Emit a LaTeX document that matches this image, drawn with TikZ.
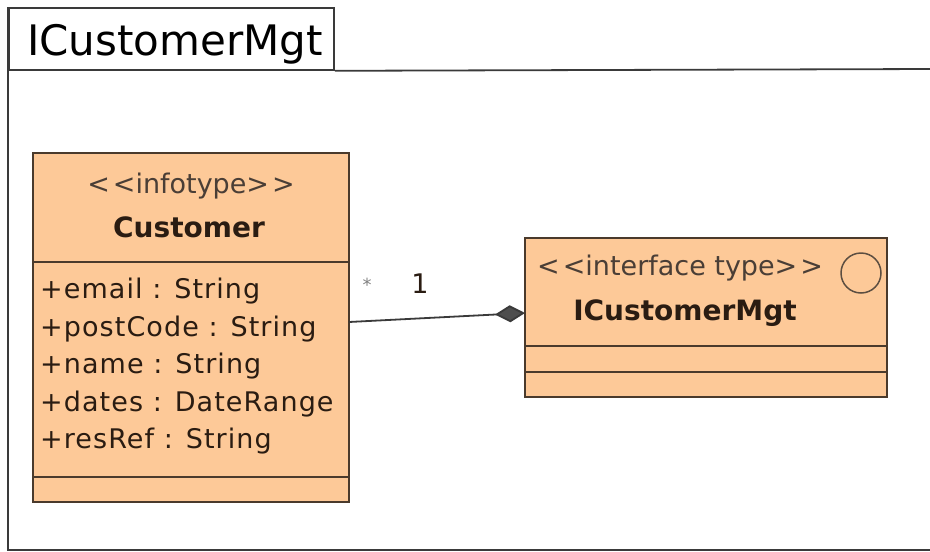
\documentclass[tikz,border=0pt]{standalone}
\usepackage{fontspec}
\setmainfont{DejaVu Sans}
\usetikzlibrary{arrows.meta,calc}
\definecolor{peach}{HTML}{FDC998}
\definecolor{edge}{HTML}{4A3A2C}
\definecolor{ink}{HTML}{2A1C12}
\definecolor{frame}{HTML}{3A3A3A}
\newcommand{\lt}{<\kern3pt<}
\newcommand{\gt}{>\kern3pt>}
\tikzset{
  umlbox/.style={draw=edge,line width=1.8pt,fill=peach,rectangle,inner sep=0pt,outer sep=0pt},
  sepline/.style={draw=edge,line width=1.8pt},
  framestyle/.style={draw=frame,line width=1.8pt},
  attr/.style={anchor=base west,inner sep=0pt,text=ink,font=\fontsize{27}{32}\selectfont\addfontfeature{LetterSpace=4}},
  stereo/.style={anchor=base,inner sep=0pt,text=ink!85,font=\fontsize{27}{32}\selectfont},
  cname/.style={anchor=base,inner sep=0pt,text=ink,font=\fontsize{28}{32}\selectfont\bfseries},
  mult/.style={anchor=base,inner sep=0pt,text=ink,font=\fontsize{27}{32}\selectfont},
  comp/.style={draw=frame,line width=1.8pt,-{Diamond[length=30pt,width=17pt,fill=frame!90]}}
}
\begin{document}
\begin{tikzpicture}[x=1pt,y=-1pt]
\useasboundingbox (0,0) rectangle (930,552);
% frame
\node[framestyle,rectangle,inner sep=0pt,minimum width=325pt,minimum height=62pt,anchor=north west] (tab) at (8,7) {};
\node[anchor=base west,inner sep=0pt,font=\fontsize{42}{48}\selectfont,text=black] (title) at (27,55) {ICustomerMgt};
\draw[framestyle] (tab.south east) -- (932,69);
\draw[framestyle] (tab.north west) -- (8,550) -- (932,550);
% Customer class
\node[umlbox,minimum width=316pt,minimum height=349pt,anchor=north west] (cust) at (33,153) {};
\draw[sepline] (33,262) -- (349,262);
\draw[sepline] (33,477) -- (349,477);
\node[stereo] (cst) at (191,193) {\lt infotype\gt};
\node[cname] (cnm) at (189,237) {Customer};
\node[attr] (a1) at (40,298) {+email : String};
\node[attr] (a2) at (40,336) {+postCode : String};
\node[attr] (a3) at (40,373) {+name : String};
\node[attr] (a4) at (40,411) {+dates : DateRange};
\node[attr] (a5) at (40,448) {+resRef : String};
% Interface class
\node[umlbox,minimum width=362pt,minimum height=159pt,anchor=north west] (iface) at (525,238) {};
\draw[sepline] (525,346) -- (887,346);
\draw[sepline] (525,372) -- (887,372);
\node[stereo,anchor=base west] (ist) at (537,275) {\lt interface type\gt};
\node[draw=edge!90,line width=1.5pt,circle,minimum size=40pt,inner sep=0pt] (icirc) at (861,273) {};
\node[cname] (inm) at (685,320) {ICustomerMgt};
% association
\draw[comp] ($(cust.east)+(0,-5.5)$) -- ($(iface.west)+(0,-4.5)$);
\node[mult,text=gray,font=\fontsize{18}{20}\selectfont] (m1) at (367,291) {*};
\node[mult] (m2) at (420,293) {1};
\end{tikzpicture}
\end{document}
